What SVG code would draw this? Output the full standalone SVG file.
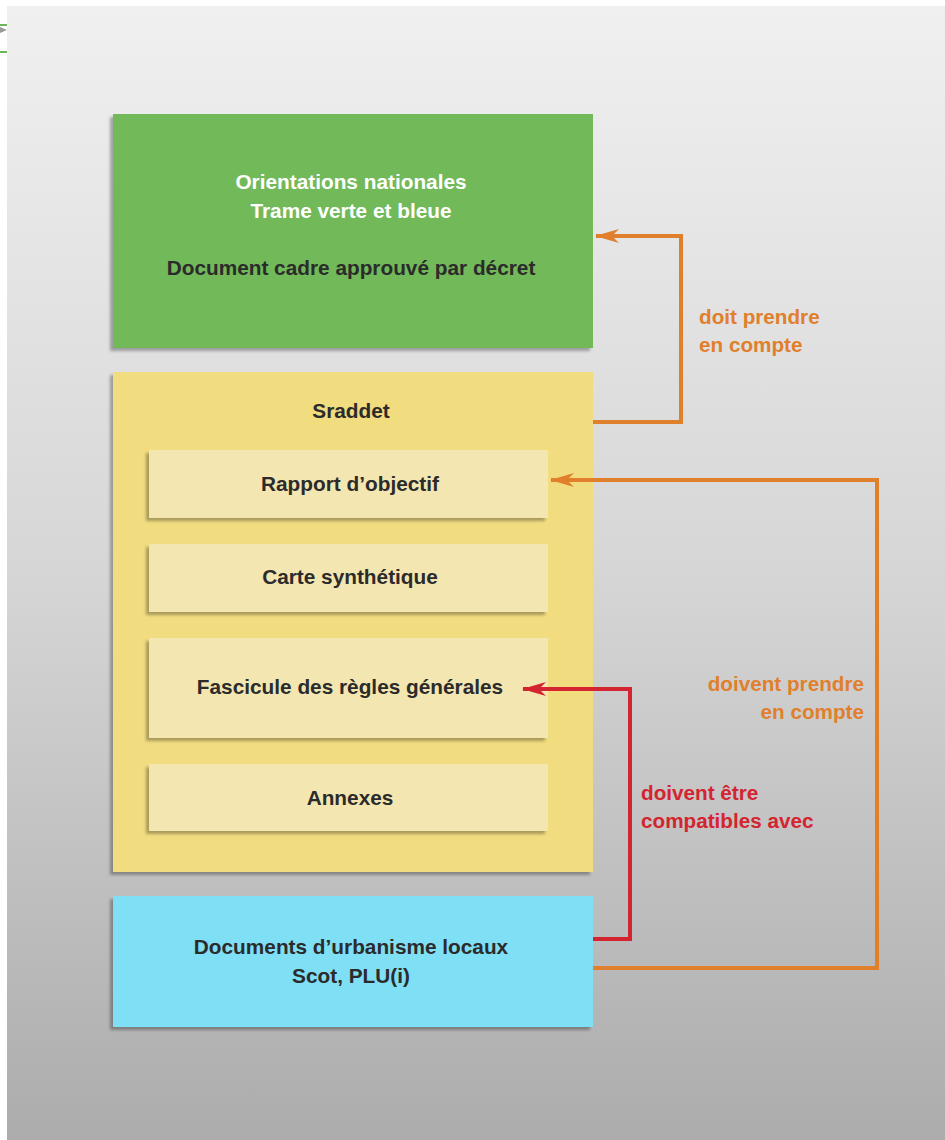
<svg xmlns="http://www.w3.org/2000/svg" width="945" height="1140" viewBox="0 0 945 1140">
<defs>
<linearGradient id="bg" x1="0" y1="0" x2="0" y2="1">
<stop offset="0" stop-color="#f0f0f0"/>
<stop offset="0.5" stop-color="#d6d6d6"/>
<stop offset="1" stop-color="#acacad"/>
</linearGradient>
<filter id="sh" x="-5%" y="-5%" width="110%" height="115%">
<feDropShadow dx="-3" dy="3" stdDeviation="1.5" flood-color="#000" flood-opacity="0.3"/>
</filter>
<marker id="ao" viewBox="0 0 24 14" refX="23" refY="7" markerWidth="24" markerHeight="14" markerUnits="userSpaceOnUse" orient="auto">
<path d="M24,7 L0,0 L7,7 L0,14 Z" fill="#e07f2c"/>
</marker>
<marker id="ar" viewBox="0 0 24 14" refX="23" refY="7" markerWidth="24" markerHeight="14" markerUnits="userSpaceOnUse" orient="auto">
<path d="M24,7 L0,0 L7,7 L0,14 Z" fill="#d4242f"/>
</marker>
<style>
.t{font-family:"Liberation Sans",Arial,sans-serif;font-weight:bold;font-size:20.8px;fill:#2b2b2b;text-anchor:middle}
.w{fill:#ffffff}
.lo{font-family:"Liberation Sans",Arial,sans-serif;font-weight:bold;font-size:20.7px;fill:#e07f2c}
.lr{font-family:"Liberation Sans",Arial,sans-serif;font-weight:bold;font-size:20.7px;fill:#d4242f}
.co{fill:none;stroke:#e07f2c;stroke-width:4}
.cr{fill:none;stroke:#d4242f;stroke-width:4}
.inner{fill:#f4e6b0}
</style>
</defs>
<rect x="0" y="0" width="945" height="1140" fill="#ffffff"/>
<rect x="7" y="6" width="938" height="1134" fill="url(#bg)"/>
<g id="edge-bits">
<rect x="0" y="24" width="7" height="2" fill="#6db55a"/>
<rect x="0" y="51" width="7" height="2" fill="#6db55a"/>
<path d="M0,27 L7,30 L0,33 Z" fill="#9a9a9a"/>
</g>
<g id="node-orientations">
<rect x="113" y="114" width="480" height="234" fill="#72b95a" filter="url(#sh)"/>
<text class="t w" x="351" y="189">Orientations nationales</text>
<text class="t w" x="351" y="218">Trame verte et bleue</text>
<text class="t" x="351" y="275">Document cadre approuvé par décret</text>
</g>
<g id="node-sraddet">
<rect x="113" y="372" width="480" height="500" fill="#f1dc80" filter="url(#sh)"/>
<text class="t" x="351" y="418">Sraddet</text>
</g>
<g id="node-rapport">
<rect class="inner" x="149" y="450" width="399" height="68" filter="url(#sh)"/>
<text class="t" x="350" y="491">Rapport d’objectif</text>
</g>
<g id="node-carte">
<rect class="inner" x="149" y="544" width="399" height="68" filter="url(#sh)"/>
<text class="t" x="350" y="584">Carte synthétique</text>
</g>
<g id="node-fascicule">
<rect class="inner" x="149" y="638" width="399" height="100" filter="url(#sh)"/>
<text class="t" x="350" y="694">Fascicule des règles générales</text>
</g>
<g id="node-annexes">
<rect class="inner" x="149" y="764" width="399" height="67" filter="url(#sh)"/>
<text class="t" x="350" y="805">Annexes</text>
</g>
<g id="node-documents">
<rect x="113" y="896" width="480" height="131" fill="#7fdff5" filter="url(#sh)"/>
<text class="t" x="351" y="954">Documents d’urbanisme locaux</text>
<text class="t" x="351" y="983">Scot, PLU(i)</text>
</g>
<g id="connectors">
<path class="co" d="M593,422 H681 V236 H596" marker-end="url(#ao)"/>
<path class="co" d="M593,968 H877 V480 H551" marker-end="url(#ao)"/>
<path class="cr" d="M593,939 H630 V689 H523" marker-end="url(#ar)"/>
</g>
<g id="labels">
<text class="lo" x="699" y="324">doit prendre</text>
<text class="lo" x="699" y="352">en compte</text>
<text class="lo" x="864" y="691" text-anchor="end">doivent prendre</text>
<text class="lo" x="864" y="719" text-anchor="end">en compte</text>
<text class="lr" x="641" y="800">doivent être</text>
<text class="lr" x="641" y="828">compatibles avec</text>
</g>
</svg>
